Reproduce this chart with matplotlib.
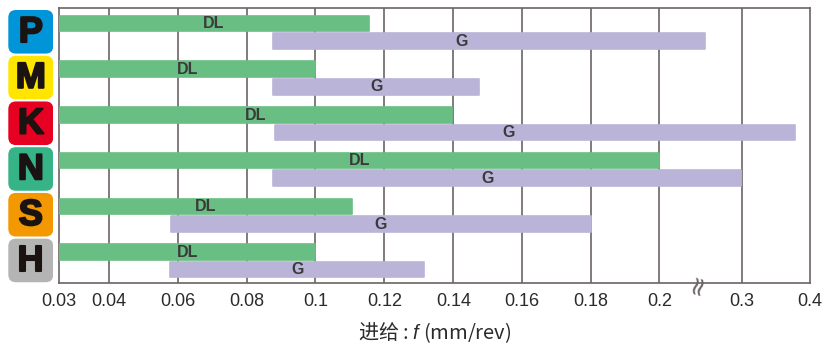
import numpy as np
import matplotlib.pyplot as plt
import matplotlib.patheffects as pe
from matplotlib.patches import FancyBboxPatch
from matplotlib.transforms import blended_transform_factory

plt.rcParams['font.family'] = ['Liberation Sans', 'DejaVu Sans']
plt.rcParams['mathtext.fontset'] = 'custom'
plt.rcParams['mathtext.it'] = 'Liberation Sans:italic'
plt.rcParams['mathtext.rm'] = 'Liberation Sans'

groups = ['P', 'M', 'K', 'N', 'S', 'H']
group_colors = ['#0094d8', '#ffe500', '#e60021', '#36b487', '#f39800', '#b4b4b4']

dl_start = [0.03, 0.03, 0.03, 0.03, 0.03, 0.03]
dl_end = [0.1155, 0.1, 0.1396, 0.2, 0.1106, 0.1]
g_start = [0.0878, 0.0878, 0.0882, 0.0878, 0.058, 0.0578]
g_end = [0.2555, 0.1475, 0.378, 0.299, 0.18, 0.1315]
# where the "G" label sits on the long bars (None = middle of bar)
g_label_x = [0.1425, None, 0.156, 0.150, None, None]

ticks = [0.03, 0.04, 0.06, 0.08, 0.1, 0.12, 0.14, 0.16, 0.18, 0.2, 0.3, 0.4]
tick_labels = ['0.03', '0.04', '0.06', '0.08', '0.1', '0.12', '0.14',
               '0.16', '0.18', '0.2', '0.3', '0.4']
# on-screen spacing of the ticks (axis is piecewise, broken after 0.2)
tick_pos = [0, 50, 118.7, 187.4, 256, 325, 394, 462.7, 531.4, 600, 682.4, 750.7]

def fwd(x):
    return np.interp(x, ticks, tick_pos)

def inv(p):
    return np.interp(p, tick_pos, ticks)

green = '#69be83'
purple = '#bbb4d9'
txt = '#3a3a3a'
line = '#6b6464'

fig = plt.figure(figsize=(8.24, 3.45), dpi=100)
ax = fig.add_axes([59.3 / 824, 62.3 / 345, 750.7 / 824, 274.4 / 345])
ax.set_xscale('function', functions=(fwd, inv))
ax.set_xlim(0.03, 0.4)
ax.set_ylim(6, 0)

y = np.arange(len(groups))
ax.barh(y + 0.33, np.array(dl_end) - np.array(dl_start), left=dl_start,
        height=0.34, color=green, edgecolor=green, linewidth=1.2,
        joinstyle='round', zorder=3)
ax.barh(y + 0.715, np.array(g_end) - np.array(g_start), left=g_start,
        height=0.34, color=purple, edgecolor=purple, linewidth=1.2,
        joinstyle='round', zorder=3)

for i in range(len(groups)):
    cx = inv((fwd(dl_start[i]) + fwd(dl_end[i])) / 2)
    ax.text(cx, i + 0.335, 'DL', ha='center', va='center', fontsize=11.5,
            fontweight='bold', color=txt, zorder=4)
    gx = g_label_x[i]
    if gx is None:
        gx = inv((fwd(g_start[i]) + fwd(g_end[i])) / 2)
    ax.text(gx, i + 0.72, 'G', ha='center', va='center', fontsize=11.5,
            fontweight='bold', color=txt, zorder=4)

ax.set_xticks(ticks)
ax.set_xticklabels(tick_labels)
ax.minorticks_off()
ax.tick_params(axis='x', length=0, pad=7.5, labelsize=13, labelcolor='#2b2b2b')
ax.set_yticks([])
for x in ticks[1:-1]:
    ax.axvline(x, color=line, lw=1.2, zorder=1)
for s in ax.spines.values():
    s.set_color(line)
    s.set_linewidth(1.2)

# axis break mark between 0.2 and 0.3
trans = blended_transform_factory(ax.transData, ax.transAxes)
ax.text(0.2466, -0.005, '≈', transform=trans, ha='center', va='center',
        rotation=75, fontsize=19, color=line, clip_on=False, zorder=5,
        family='DejaVu Sans')

ax.set_xlabel(r'进给 : $f$ (mm/rev)', fontsize=14.5, color='#2b2b2b',
              family=['Noto Sans CJK SC', 'DejaVu Sans'], labelpad=7)

# material group badges
bax = fig.add_axes([8.3 / 824, 62.3 / 345, 45 / 824, 274.4 / 345])
bax.set_xlim(0, 1)
bax.set_ylim(6, 0)
bax.axis('off')
for i, (g, c) in enumerate(zip(groups, group_colors)):
    bax.add_patch(FancyBboxPatch((0, i + 0.037), 1, 0.953,
                                 boxstyle='round,pad=0,rounding_size=0.17',
                                 fc=c, ec='none'))
    bax.text(0.5, i + 0.53, g, ha='center', va='center', fontsize=26,
             fontweight='bold', color='#1a1311',
             path_effects=[pe.withStroke(linewidth=1.5, foreground='#1a1311')])

fig.savefig('out.png', dpi=100)
